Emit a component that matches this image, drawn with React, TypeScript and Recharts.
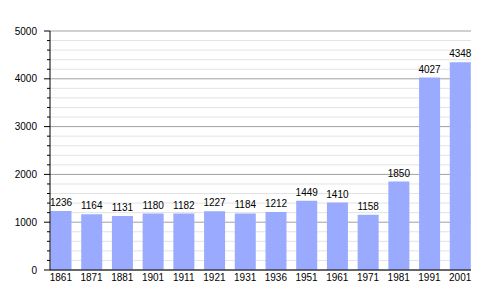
import React from "react";
import {
  BarChart,
  Bar,
  XAxis,
  YAxis,
  CartesianGrid,
  LabelList,
} from "recharts";

// census years and population
const years = [
  "1861", "1871", "1881", "1901", "1911", "1921", "1931",
  "1936", "1951", "1961", "1971", "1981", "1991", "2001",
];
const population = [
  1236, 1164, 1131, 1180, 1182, 1227, 1184,
  1212, 1449, 1410, 1158, 1850, 4027, 4348,
];
const yTicks = Array.from({ length: 26 }, (_, i) => i * 200);

const data = years.map((year, i) => ({ year, value: population[i] }));

const font = "'Liberation Sans', Arial, sans-serif";

// left axis tick: long mark + label on thousands, short mark otherwise
const YTick = (props: any) => {
  const { x, y, payload } = props;
  const major = payload.value % 1000 === 0;
  return (
    <g>
      <line x1={x - (major ? 6 : 3)} x2={x} y1={y} y2={y} stroke="#000" />
      {major && (
        <text
          x={x - 13}
          y={y}
          dy="0.35em"
          textAnchor="end"
          fontSize={10}
          fontFamily={font}
          fill="#000"
        >
          {payload.value}
        </text>
      )}
    </g>
  );
};

const GridLine = (props: any) => {
  const { x1, x2, y1, y2, index } = props;
  const major = index % 5 === 0;
  return (
    <line
      key={`g-${index}`}
      x1={x1}
      x2={x2}
      y1={y1}
      y2={y2}
      stroke={major ? "#a0a0a0" : "#e3e3e3"}
      strokeWidth={1}
    />
  );
};

const App: React.FC = () => {
  return (
    <div style={{ position: "absolute", left: 0, top: 0, background: "#fff" }}>
      <BarChart
        width={500}
        height={300}
        data={data}
        margin={{ top: 31, right: 29, left: 0, bottom: 0 }}
        barSize={21}
      >
        <CartesianGrid vertical={false} horizontal={GridLine} />
        <XAxis
          dataKey="year"
          height={30}
          padding={{ left: -4.5, right: -4.5 }}
          tickLine={false}
          tickSize={2}
          tickMargin={2}
          axisLine={{ stroke: "#000" }}
          tick={{ fontSize: 10, fontFamily: font, fill: "#000" }}
          interval={0}
        />
        <YAxis
          width={50}
          domain={[0, 5000]}
          ticks={yTicks}
          interval={0}
          tickSize={0}
          tickMargin={0}
          tickLine={false}
          axisLine={{ stroke: "#000" }}
          tick={<YTick />}
        />
        <Bar dataKey="value" fill="#99aaff" isAnimationActive={false}>
          <LabelList
            dataKey="value"
            position="top"
            offset={5}
            fontSize={10}
            fontFamily={font}
            fill="#000"
          />
        </Bar>
      </BarChart>
    </div>
  );
};

export default App;
